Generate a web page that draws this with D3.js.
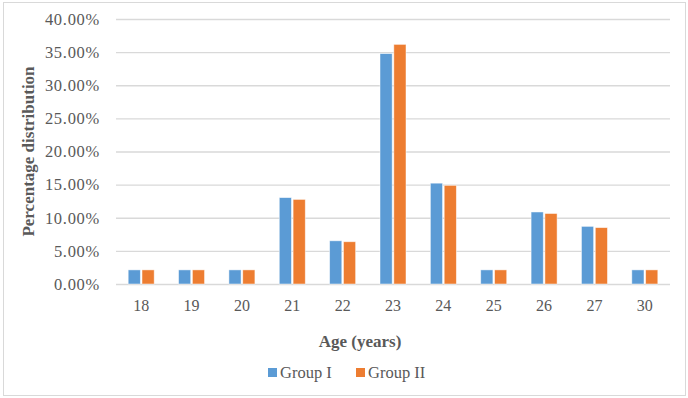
<!DOCTYPE html>
<html>
  <head>
    <meta charset="UTF-8">
    <style>
      body {
        margin: 0;
        background: #fff;
        font-family: "Liberation Serif", "Times New Roman", serif;
      }

      .tick text {
        font-family: "Liberation Serif", "Times New Roman", serif;
        font-size: 16px;
        fill: #595959;
      }

      .y-axis .tick text {
        font-size: 16.5px;
        letter-spacing: 0.7px;
      }

      .axis-title {
        font-size: 17px;
        font-weight: bold;
        fill: #595959;
      }

      .legend text {
        font-size: 16.5px;
        fill: #595959;
      }
    </style>
    <script src="https://d3js.org/d3.v7.min.js"></script>
  </head>

  <body>
    <svg id="chart"></svg>

    <script type="text/javascript">
      // values, in percent
      let ages = ['18', '19', '20', '21', '22', '23', '24', '25', '26', '27', '30']
      let groupOne = [2.13, 2.13, 2.13, 13.04, 6.52, 34.78, 15.22, 2.13, 10.87, 8.70, 2.13]
      let groupTwo = [2.13, 2.13, 2.13, 12.77, 6.38, 36.17, 14.89, 2.13, 10.64, 8.51, 2.13]
      let seriesNames = ['Group I', 'Group II']
      let seriesColors = ['#5b9bd5', '#ed7d31']
      let yTicks = [0, 5, 10, 15, 20, 25, 30, 35, 40]

      let width = 688
      let height = 398
      let margin = {top: 19, right: 18, bottom: 114, left: 116}

      let svg = d3.select('#chart')
        .attr('width', width)
        .attr('height', height)

      // outer frame
      svg.append('rect')
        .attr('x', 3.5)
        .attr('y', 2.5)
        .attr('width', 682)
        .attr('height', 393)
        .attr('fill', '#fff')
        .attr('stroke', '#d9d9d9')

      let x = d3.scaleBand()
        .domain(ages)
        .range([margin.left, width - margin.right])

      let inner = d3.scaleBand()
        .domain(seriesNames)
        .range([0, 26])
        .paddingInner(0.12)

      let y = d3.scaleLinear()
        .domain([0, 40])
        .range([height - margin.bottom, margin.top])

      // gridlines + y labels
      let yAxis = svg.append('g')
        .attr('class', 'y-axis')
        .attr('transform', `translate(${margin.left},0)`)
        .call(d3.axisLeft(y)
          .tickValues(yTicks)
          .tickFormat(d => d.toFixed(2) + '%')
          .tickSize(-(width - margin.left - margin.right))
          .tickPadding(16))
      yAxis.select('.domain').remove()
      yAxis.selectAll('.tick line')
        .attr('stroke', '#d9d9d9')
        .attr('stroke-width', 1.3)

      // x labels
      let xAxis = svg.append('g')
        .attr('transform', `translate(0,${height - margin.bottom})`)
        .call(d3.axisBottom(x).tickSize(0).tickPadding(16))
      xAxis.select('.domain').remove()

      let rows = ages.map((a, i) => ({age: a, values: [groupOne[i], groupTwo[i]]}))

      let groups = svg.append('g')
        .selectAll('g')
        .data(rows)
        .join('g')
        .attr('transform', d => `translate(${x(d.age) + x.bandwidth() / 2 - 13},0)`)

      groups.selectAll('rect')
        .data(d => d.values.map((v, i) => ({name: seriesNames[i], value: v, color: seriesColors[i]})))
        .join('rect')
        .attr('x', d => inner(d.name))
        .attr('width', inner.bandwidth())
        .attr('y', d => y(d.value))
        .attr('height', d => y(0) - y(d.value))
        .attr('fill', d => d.color)
        .attr('stroke', '#fff')
        .attr('stroke-opacity', 0.6)
        .attr('stroke-width', 0.8)

      // axis titles
      svg.append('text')
        .attr('class', 'axis-title')
        .attr('transform', `translate(34,${(margin.top + height - margin.bottom) / 2}) rotate(-90)`)
        .attr('text-anchor', 'middle')
        .text('Percentage distribution')

      svg.append('text')
        .attr('class', 'axis-title')
        .attr('x', 360)
        .attr('y', 347)
        .attr('text-anchor', 'middle')
        .text('Age (years)')

      // legend
      let legend = svg.append('g')
        .attr('class', 'legend')
        .attr('transform', 'translate(268,378)')

      let items = legend.selectAll('g')
        .data(seriesNames)
        .join('g')
        .attr('transform', (d, i) => `translate(${i * 88},0)`)

      items.append('rect')
        .attr('x', 0)
        .attr('y', -10)
        .attr('width', 9)
        .attr('height', 9)
        .attr('fill', (d, i) => seriesColors[i])

      items.append('text')
        .attr('x', 12)
        .attr('y', 0)
        .text(d => d)
    </script>
  </body>
</html>
